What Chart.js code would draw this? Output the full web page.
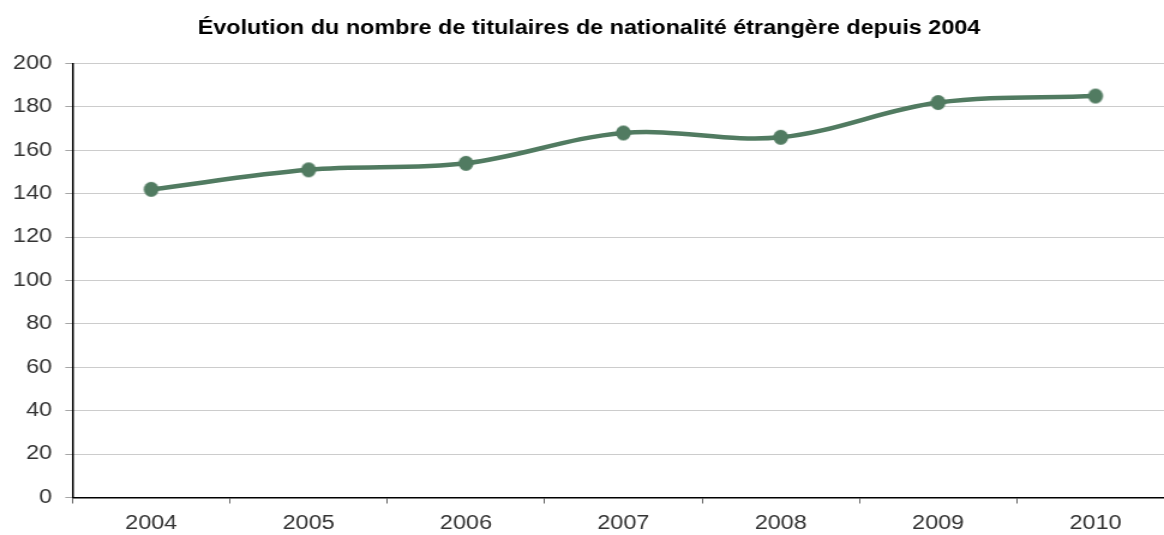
<!DOCTYPE html>
<html>
<head>
<meta charset="utf-8">
<script src="https://cdn.jsdelivr.net/npm/chart.js@4/dist/chart.umd.min.js"></script>
<style>
  html, body { margin: 0; padding: 0; background: #ffffff; overflow: hidden; }
  #wrap { position: relative; width: 1164px; height: 535px; overflow: hidden; }
  #c { position: absolute; left: 0; top: 0; }
</style>
</head>
<body>
<div id="wrap"><canvas id="c" width="990" height="535" style="display:block;width:1188px;height:535px;"></canvas></div>
<script>
const titleText = "Évolution du nombre de titulaires de nationalité étrangère depuis 2004";
const years = ["2004", "2005", "2006", "2007", "2008", "2009", "2010"];
const titulaires = [142, 151, 154, 168, 166, 182, 185];
const yMin = 0;
const yMax = 200;
const yStep = 20;

const STRETCH = 1.2;
const lineColor = "#517b61";
const font = "'Liberation Sans', Arial, Helvetica, sans-serif";

// marker drawn pre-compressed so it looks round after horizontal stretch
function makeMarker(r) {
  const c = document.createElement("canvas");
  const rx = r / STRETCH, ry = r;
  c.width = Math.ceil(rx * 2) + 2;
  c.height = Math.ceil(ry * 2) + 2;
  const ctx = c.getContext("2d");
  ctx.fillStyle = lineColor;
  ctx.beginPath();
  ctx.ellipse(c.width / 2, c.height / 2, rx, ry, 0, 0, Math.PI * 2);
  ctx.fill();
  return c;
}
const marker = makeMarker(7.5);

new Chart(document.getElementById("c"), {
  type: "line",
  data: {
    labels: years,
    datasets: [{
      data: titulaires,
      borderColor: lineColor,
      backgroundColor: lineColor,
      borderWidth: 4.5,
      tension: 0.35,
      pointStyle: marker,
      pointRadius: 7,
      pointHoverRadius: 7,
      fill: false
    }]
  },
  options: {
    responsive: false,
    devicePixelRatio: 1,
    animation: false,
    events: [],
    layout: { padding: { top: 6.7, left: 0, right: 8.4, bottom: 0 } },
    plugins: {
      legend: { display: false },
      tooltip: { enabled: false },
      title: {
        display: true,
        text: titleText,
        color: "#000000",
        font: { family: font, size: 19.5, weight: "bold" },
        padding: { top: 10, bottom: 23.4 }
      }
    },
    scales: {
      x: {
        offset: true,
        afterFit: (scale) => { scale.height = 37.5; },
        grid: {
          display: true,
          drawOnChartArea: false,
          offset: true,
          tickLength: 6,
          tickColor: "#666666",
          tickWidth: 1
        },
        border: { display: true, color: "#000000", width: 1.5 },
        ticks: {
          color: "#333333",
          font: { family: font, size: 19.5 },
          padding: 8,
          maxRotation: 0,
          autoSkip: false
        }
      },
      y: {
        min: yMin,
        max: yMax,
        afterFit: (scale) => { scale.width = 60.4; },
        grid: {
          color: "#999999",
          lineWidth: 1,
          tickLength: 6,
          tickColor: "#a6a6a6",
          tickBorderDash: []
        },
        border: { display: true, color: "#000000", width: 1.5, dash: [1, 1] },
        ticks: {
          stepSize: yStep,
          color: "#333333",
          font: { family: font, size: 19.5 },
          padding: 11
        }
      }
    }
  }
});
</script>
</body>
</html>
